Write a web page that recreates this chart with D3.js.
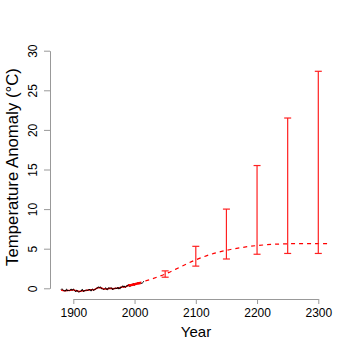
<!DOCTYPE html>
<html>
<head>
<meta charset="utf-8">
<script src="https://cdn.jsdelivr.net/npm/d3@7"></script>
<style>
  body { margin: 0; background: #fff; }
  svg { font-family: "Liberation Sans", Arial, sans-serif; }
</style>
</head>
<body>
<svg id="chart" width="350" height="350"></svg>
<script>
// observed annual anomalies, 1880-2015
const obsStart = 1880;
const obsValues = [-0.16, -0.08, -0.10, -0.17, -0.28, -0.33, -0.31, -0.36, -0.17, -0.10,
    -0.35, -0.22, -0.27, -0.31, -0.30, -0.22, -0.11, -0.11, -0.27, -0.17,
    -0.08, -0.15, -0.28, -0.37, -0.47, -0.26, -0.22, -0.39, -0.43, -0.48,
    -0.43, -0.44, -0.36, -0.34, -0.15, -0.14, -0.36, -0.46, -0.29, -0.27,
    -0.27, -0.19, -0.28, -0.26, -0.27, -0.22, -0.10, -0.22, -0.20, -0.36,
    -0.16, -0.09, -0.16, -0.29, -0.13, -0.20, -0.15, -0.03, 0.00, -0.02,
    0.13, 0.19, 0.07, 0.09, 0.20, 0.09, -0.07, -0.03, -0.11, -0.11,
    -0.17, -0.07, 0.01, 0.08, -0.13, -0.14, -0.19, 0.05, 0.06, 0.03,
    -0.03, 0.06, 0.03, 0.05, -0.20, -0.11, -0.06, -0.02, -0.08, 0.05,
    0.03, -0.08, 0.01, 0.16, -0.07, -0.01, -0.10, 0.18, 0.07, 0.16,
    0.26, 0.32, 0.14, 0.31, 0.16, 0.12, 0.18, 0.32, 0.39, 0.27,
    0.45, 0.40, 0.22, 0.23, 0.31, 0.45, 0.33, 0.46, 0.61, 0.38,
    0.39, 0.54, 0.63, 0.62, 0.54, 0.68, 0.64, 0.66, 0.54, 0.65,
    0.72, 0.61, 0.64, 0.68, 0.75, 0.90];

// second (red) record, 5-yearly
const redYears = [1880, 1885, 1890, 1895, 1900, 1905, 1910, 1915, 1920, 1925, 1930, 1935,
    1940, 1945, 1950, 1955, 1960, 1965, 1970, 1975, 1980, 1985, 1990, 1995, 2000, 2005, 2010];
const redValues = [-0.22, -0.30, -0.28, -0.24, -0.18, -0.32, -0.40, -0.30, -0.28, -0.22, -0.18, -0.14,
    0.08, 0.06, -0.10, -0.08, 0.00, -0.06, 0.00, 0.02, 0.20, 0.18, 0.38, 0.42, 0.50, 0.62, 0.66];

// projection (dashed)
const projYears = [2005, 2025, 2050, 2075, 2100, 2125, 2150, 2175, 2200, 2225, 2250, 2275, 2300, 2318];
const projValues = [0.65, 1.1, 1.8, 2.7, 3.6, 4.3, 4.8, 5.15, 5.4, 5.55, 5.62, 5.65, 5.65, 5.65];

// ranges (error bars)
const barYears = [2050, 2100, 2150, 2200, 2250, 2300];
const barLow = [1.4, 2.8, 3.7, 4.3, 4.4, 4.4];
const barHigh = [2.2, 5.3, 10.0, 15.5, 21.5, 27.4];

const xTicks = [1900, 2000, 2100, 2200, 2300];
const yTicks = [0, 5, 10, 15, 20, 25, 30];

const svg = d3.select("#chart");
const x = d3.scaleLinear().domain([1900, 2300]).range([73.3, 318.3]);
const y = d3.scaleLinear().domain([0, 30]).range([288.3, 50.7]);

// axes
const xAxis = svg.append("g")
    .attr("transform", "translate(0,299)")
    .call(d3.axisBottom(x).tickValues(xTicks).tickFormat(d3.format("d")).tickSize(5).tickSizeOuter(0));
const yAxis = svg.append("g")
    .attr("transform", "translate(50,0)")
    .call(d3.axisLeft(y).tickValues(yTicks).tickSize(6).tickSizeOuter(0));

[xAxis, yAxis].forEach(a => {
    a.select(".domain").attr("stroke", "#999");
    a.selectAll(".tick line").attr("stroke", "#999");
    a.selectAll(".tick text").attr("fill", "#000").style("font-size", "12px")
        .style("font-family", "Liberation Sans, Arial, sans-serif");
});
xAxis.selectAll(".tick text").attr("dy", null).attr("y", 18);
// rotated y labels, inside the already translated tick groups
yAxis.selectAll(".tick text")
    .attr("x", null).attr("dy", null).attr("y", 0)
    .attr("text-anchor", "middle")
    .attr("transform", "translate(-13,0) rotate(-90)");

// axis titles
svg.append("text")
    .attr("x", 196).attr("y", 337)
    .attr("text-anchor", "middle")
    .style("font-size", "15px")
    .text("Year");
svg.append("text")
    .attr("transform", "translate(18,167) rotate(-90)")
    .attr("text-anchor", "middle")
    .style("font-size", "16.8px")
    .text("Temperature Anomaly (°C)");

// data lines
const line = d3.line().x(d => x(d[0])).y(d => y(d[1]));

svg.append("path")
    .datum(redYears.map((yr, i) => [yr, redValues[i]]))
    .attr("fill", "none").attr("stroke", "#ff0000").attr("stroke-width", 1.5)
    .attr("d", line);

svg.append("path")
    .datum(obsValues.map((v, i) => [obsStart + i, v]))
    .attr("fill", "none").attr("stroke", "#000").attr("stroke-width", 1)
    .attr("d", line);

svg.append("path")
    .datum(redYears.map((yr, i) => [yr, redValues[i]]).filter(d => d[0] >= 1990))
    .attr("fill", "none").attr("stroke", "#ff0000").attr("stroke-width", 2.5)
    .attr("d", line);

svg.append("path")
    .datum(projYears.map((yr, i) => [yr, projValues[i]]))
    .attr("fill", "none").attr("stroke", "#ff0000").attr("stroke-width", 1.2)
    .attr("stroke-dasharray", "4,4")
    .attr("d", line.curve(d3.curveMonotoneX));

// error bars
const bars = svg.append("g").attr("stroke", "#ff2020").attr("stroke-width", 1.2);
barYears.forEach((yr, i) => {
    const cx = x(yr);
    bars.append("line").attr("x1", cx).attr("x2", cx).attr("y1", y(barLow[i])).attr("y2", y(barHigh[i]));
    bars.append("line").attr("x1", cx - 3.5).attr("x2", cx + 3.5).attr("y1", y(barLow[i])).attr("y2", y(barLow[i]));
    bars.append("line").attr("x1", cx - 3.5).attr("x2", cx + 3.5).attr("y1", y(barHigh[i])).attr("y2", y(barHigh[i]));
});
</script>
</body>
</html>
